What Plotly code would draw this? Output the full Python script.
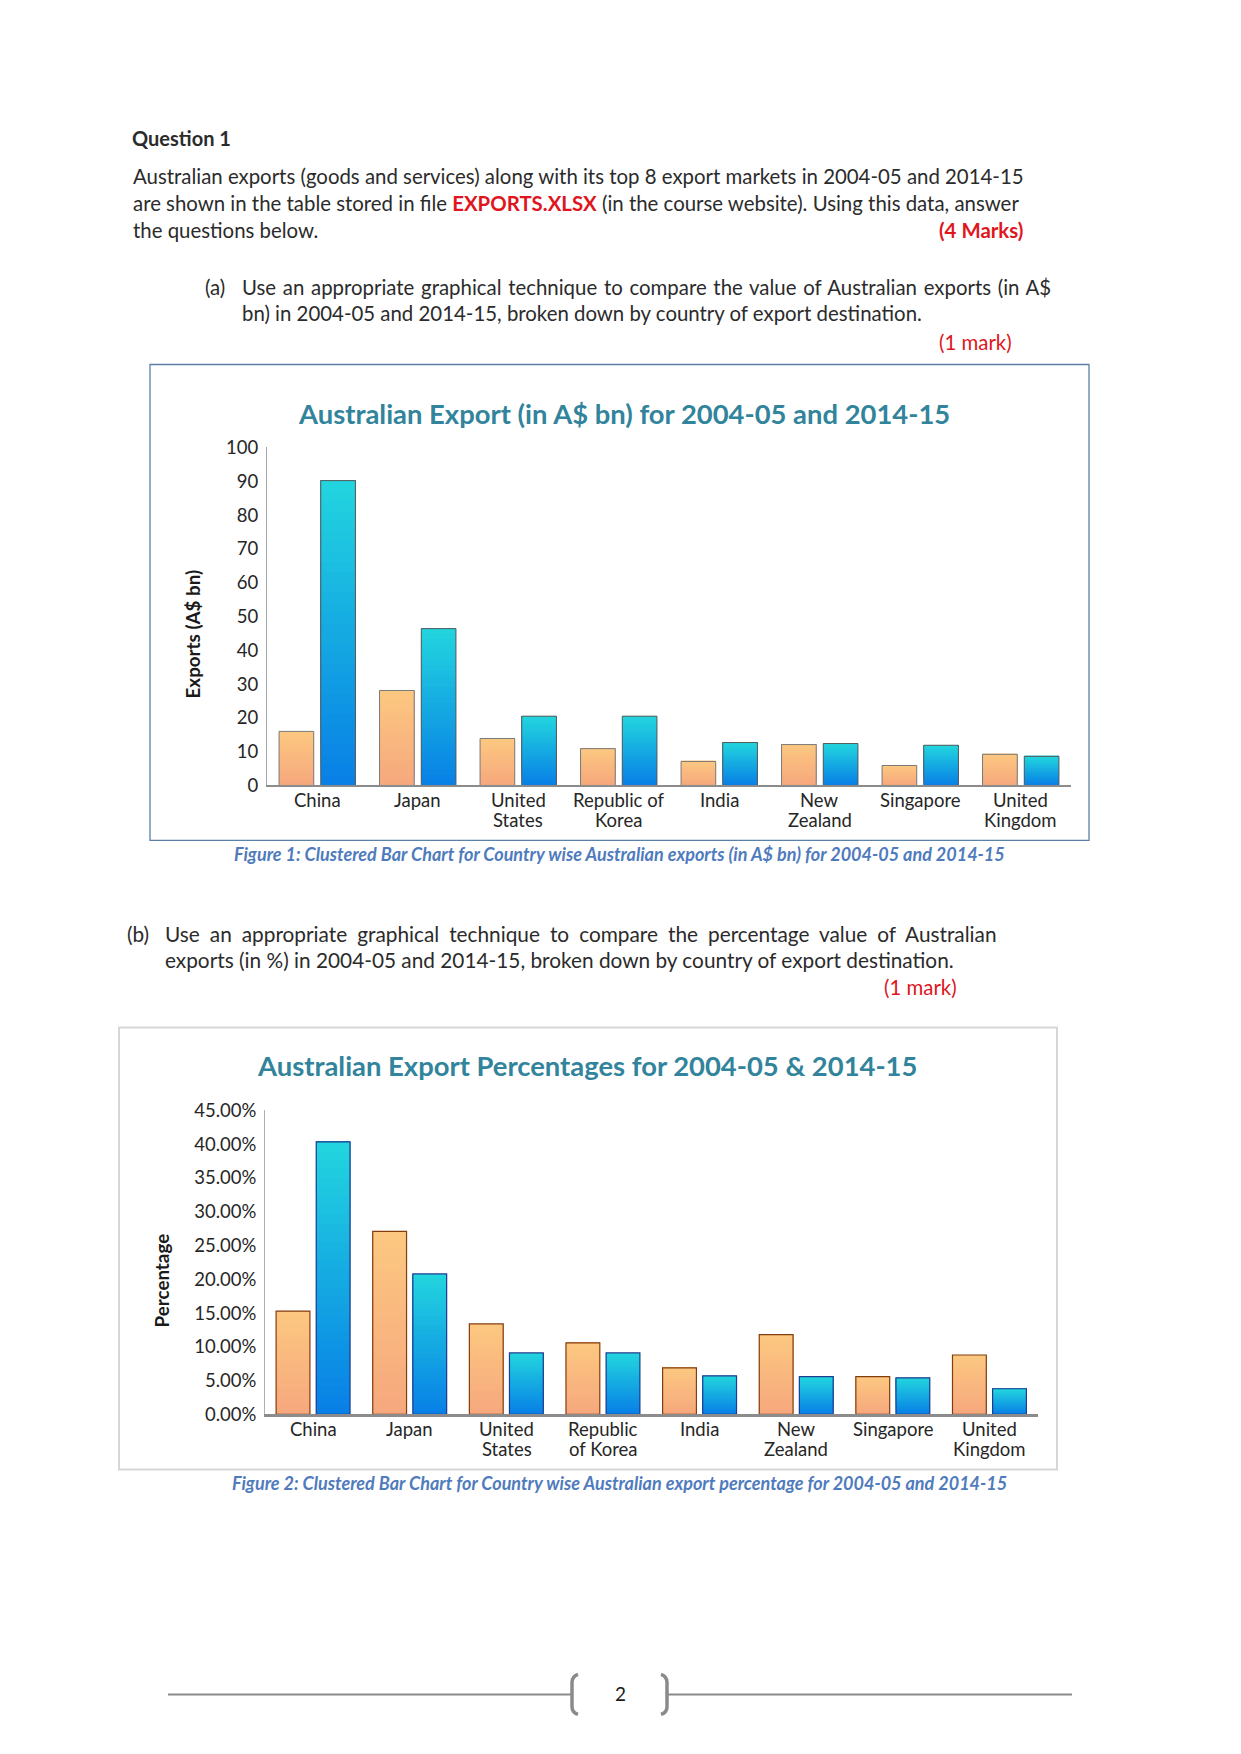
import plotly.graph_objects as go

W = 1241
H_FIG = 1754
# observed vertical placement of the page in the photograph (offset / scale)
TOP = 11.5
VSCALE = 0.9875

# ---------------- data ----------------
countries = ["China", "Japan", "United States", "Republic of Korea", "India",
             "New Zealand", "Singapore", "United Kingdom"]
labels_1 = ["China", "Japan", "United<br>States", "Republic of<br>Korea", "India",
            "New<br>Zealand", "Singapore", "United<br>Kingdom"]
labels_2 = ["China", "Japan", "United<br>States", "Republic<br>of Korea", "India",
            "New<br>Zealand", "Singapore", "United<br>Kingdom"]

exports_2004 = [16.0, 28.1, 13.9, 10.9, 7.1, 12.1, 5.9, 9.2]
exports_2014 = [90.2, 46.4, 20.5, 20.5, 12.7, 12.4, 11.9, 8.6]

pct_2004 = [0.153, 0.271, 0.134, 0.106, 0.069, 0.118, 0.056, 0.088]
pct_2014 = [0.4035, 0.208, 0.091, 0.091, 0.057, 0.056, 0.054, 0.038]

y1_ticks = [0, 10, 20, 30, 40, 50, 60, 70, 80, 90, 100]
y2_ticks = [0, 0.05, 0.10, 0.15, 0.20, 0.25, 0.30, 0.35, 0.40, 0.45]

# ---------------- helpers ----------------
def px(x):
    return x / W

def py(y):
    return 1 - ((y - TOP) / VSCALE) / H_FIG

ORANGE_BOT, ORANGE_TOP = (246, 168, 126), (252, 199, 128)
BLUE_BOT, BLUE_TOP = (8, 128, 230), (34, 212, 222)
N = 30

def lerp(c0, c1, t):
    return "rgb(%d,%d,%d)" % tuple(round(a + (b - a) * t) for a, b in zip(c0, c1))

fig = go.Figure()

def add_series(vals, xa, ya, bot, top, offset, width, line_color, line_w):
    for k in range(N):
        t = k / (N - 1)
        base = [v * k / N for v in vals]
        fig.add_trace(go.Bar(
            x=countries, y=[v - b for v, b in zip(vals, base)], base=base,
            xaxis=xa, yaxis=ya, offset=offset, width=width,
            marker=dict(color=lerp(bot, top, t), line=dict(width=0)),
            showlegend=False, hoverinfo="skip"))
    fig.add_trace(go.Bar(
        x=countries, y=vals, xaxis=xa, yaxis=ya, offset=offset, width=width,
        marker=dict(color="rgba(0,0,0,0)", line=dict(color=line_color, width=line_w)),
        showlegend=False, hoverinfo="skip"))

# chart 1
add_series(exports_2004, "x", "y", ORANGE_BOT, ORANGE_TOP, -0.38, 0.345, "#7a7a7a", 1)
add_series(exports_2014, "x", "y", BLUE_BOT, BLUE_TOP, 0.035, 0.345, "#5a5a5a", 1)
# chart 2
add_series(pct_2004, "x2", "y2", ORANGE_BOT, ORANGE_TOP, -0.385, 0.35, "#843c0c", 1.2)
add_series(pct_2014, "x2", "y2", BLUE_BOT, BLUE_TOP, 0.03, 0.35, "#1f3a8f", 1.2)

FONT = "Lato"
TICKCOL = "#262626"
tickfont = dict(family=FONT, size=18.5, color=TICKCOL)

fig.update_layout(
    width=W, height=H_FIG, margin=dict(l=0, r=0, t=0, b=0),
    paper_bgcolor="white", plot_bgcolor="rgba(0,0,0,0)",
    barmode="overlay", font=dict(family=FONT),
    xaxis=dict(domain=[px(267), px(1071)], anchor="y", type="category",
               range=[-0.5, 7.5], categoryarray=countries, showticklabels=False,
               showline=True, linecolor="#8c8c8c", linewidth=1.5, ticks="",
               showgrid=False, zeroline=False, fixedrange=True),
    yaxis=dict(domain=[py(785), py(447)], anchor="x", range=[0, 100],
               tickvals=y1_ticks, showline=True, linecolor="#a6a6a6", linewidth=1,
               ticks="", showgrid=False, zeroline=False, tickfont=tickfont,
               ticklabelstandoff=4, fixedrange=True),
    xaxis2=dict(domain=[px(265), px(1038)], anchor="y2", type="category",
                range=[-0.5, 7.5], categoryarray=countries, showticklabels=False,
                showline=True, linecolor="#8c8c8c", linewidth=3, ticks="",
                showgrid=False, zeroline=False, fixedrange=True),
    yaxis2=dict(domain=[py(1414), py(1110)], anchor="x2", range=[0, 0.45],
                tickvals=y2_ticks, tickformat=".2%", showline=True,
                linecolor="#b0b0b0", linewidth=1, ticks="", showgrid=False,
                zeroline=False, tickfont=tickfont, ticklabelstandoff=4,
                fixedrange=True),
)

# ---------------- frames & footer ----------------
shapes = [
    dict(type="rect", xref="paper", yref="paper", x0=px(150), x1=px(1089),
         y0=py(840), y1=py(364), line=dict(color="#5b80a6", width=1.3), layer="below"),
    dict(type="rect", xref="paper", yref="paper", x0=px(119), x1=px(1057),
         y0=py(1469), y1=py(1027), line=dict(color="#d6d6d6", width=2), layer="below"),
    dict(type="line", xref="paper", yref="paper", x0=px(168), x1=px(572),
         y0=py(1694), y1=py(1694), line=dict(color="#8a8a8a", width=2)),
    dict(type="line", xref="paper", yref="paper", x0=px(667), x1=px(1072),
         y0=py(1694), y1=py(1694), line=dict(color="#8a8a8a", width=2)),
]
def bracket(xo, xi, y0, y1):
    return dict(type="path", xref="paper", yref="paper",
                path="M %f %f Q %f %f %f %f L %f %f Q %f %f %f %f" % (
                    px(xi), py(y0), px(xo), py(y0 + 2), px(xo), py(y0 + 8),
                    px(xo), py(y1 - 8), px(xo), py(y1 - 2), px(xi), py(y1)),
                line=dict(color="#8a8a8a", width=3.5))
shapes.append(bracket(572, 578, 1674, 1714))
shapes.append(bracket(667, 661, 1674, 1714))
fig.update_layout(shapes=shapes)

# ---------------- text ----------------
BODY = "#2b2b2b"
RED = "#e0161e"
BS = 20.4
annos = []

def txt(text, x, y, size=BS, color=BODY, xanchor="left", angle=0, family=FONT):
    annos.append(dict(text=text, x=px(x), y=py(y), xref="paper", yref="paper",
                      xanchor=xanchor, yanchor="middle", showarrow=False,
                      textangle=angle, font=dict(family=family, size=size, color=color)))

def ws(text, spacing):
    return "<span style='word-spacing:%.1fpx'>%s</span>" % (spacing, text)

# category labels (tight two-line spacing as in the original)
def cat_labels(labels, xref, y_first, line_gap):
    for cat, lab in zip(countries, labels):
        for i, part in enumerate(lab.split("<br>")):
            annos.append(dict(text=part, x=cat, xref=xref, y=py(y_first + i * line_gap),
                              yref="paper", xanchor="center", yanchor="middle",
                              showarrow=False, font=dict(family=FONT, size=18.5, color=TICKCOL)))

cat_labels(labels_1, "x", 799.5, 20)
cat_labels(labels_2, "x2", 1428.5, 20)

txt("<b>Question 1</b>", 130, 138, size=20)
txt("Australian exports (goods and services) along with its top 8 export markets in 2004-05 and 2014-15",
    131, 176)
txt("are shown in the table stored in file <b><span style='color:%s'>EXPORTS.XLSX</span></b> "
    "(in the course website). Using this data, answer" % RED, 131, 202.5)
txt("the questions below.", 131, 229.5)
txt("<b>(4 Marks)</b>", 1025, 229.5, color=RED, xanchor="right")
txt("(a)", 203, 286.5)
txt(ws("Use an appropriate graphical technique to compare the value of Australian exports (in A$", 1.5),
    240, 286.5)
txt("bn) in 2004-05 and 2014-15, broken down by country of export destination.", 240, 313)
txt("(1 mark)", 1014, 342, color=RED, xanchor="right")

txt("<b>Australian Export (in A$ bn) for 2004-05 and 2014-15</b>", 624, 413, size=27.4,
    color="#31849b", xanchor="center")
txt("<b>Exports (A$ bn)</b>", 192, 634, size=18.8, color="#1a1a1a", xanchor="center", angle=-90)
txt("<b><i>Figure 1: Clustered Bar Chart for Country wise Australian exports (in A$ bn) for 2004-05 and 2014-15</i></b>",
    619, 854, size=18, color="#4f7bbd", xanchor="center")

txt("(b)", 125, 933.5, size=20.8)
txt(ws("Use an appropriate graphical technique to compare the percentage value of Australian", 4.7),
    163, 933.5, size=20.8)
txt("exports (in %) in 2004-05 and 2014-15, broken down by country of export destination.",
    163, 959.5, size=20.8)
txt("(1 mark)", 959, 987, color=RED, xanchor="right")

txt("<b>Australian Export Percentages for 2004-05 &amp; 2014-15</b>", 587, 1065, size=27.4,
    color="#31849b", xanchor="center")
txt("<b>Percentage</b>", 161, 1280, size=18.8, color="#1a1a1a", xanchor="center", angle=-90)
txt("<b><i>Figure 2: Clustered Bar Chart for Country wise Australian export percentage for 2004-05 and 2014-15</i></b>",
    619, 1483, size=18, color="#4f7bbd", xanchor="center")

txt("2", 620, 1693, size=19, color="#1a1a1a", xanchor="center")

fig.update_layout(annotations=annos)
fig.write_html("out.html", config={"displayModeBar": False},
               post_script="document.body.style.margin='0';document.body.style.padding='0';")
